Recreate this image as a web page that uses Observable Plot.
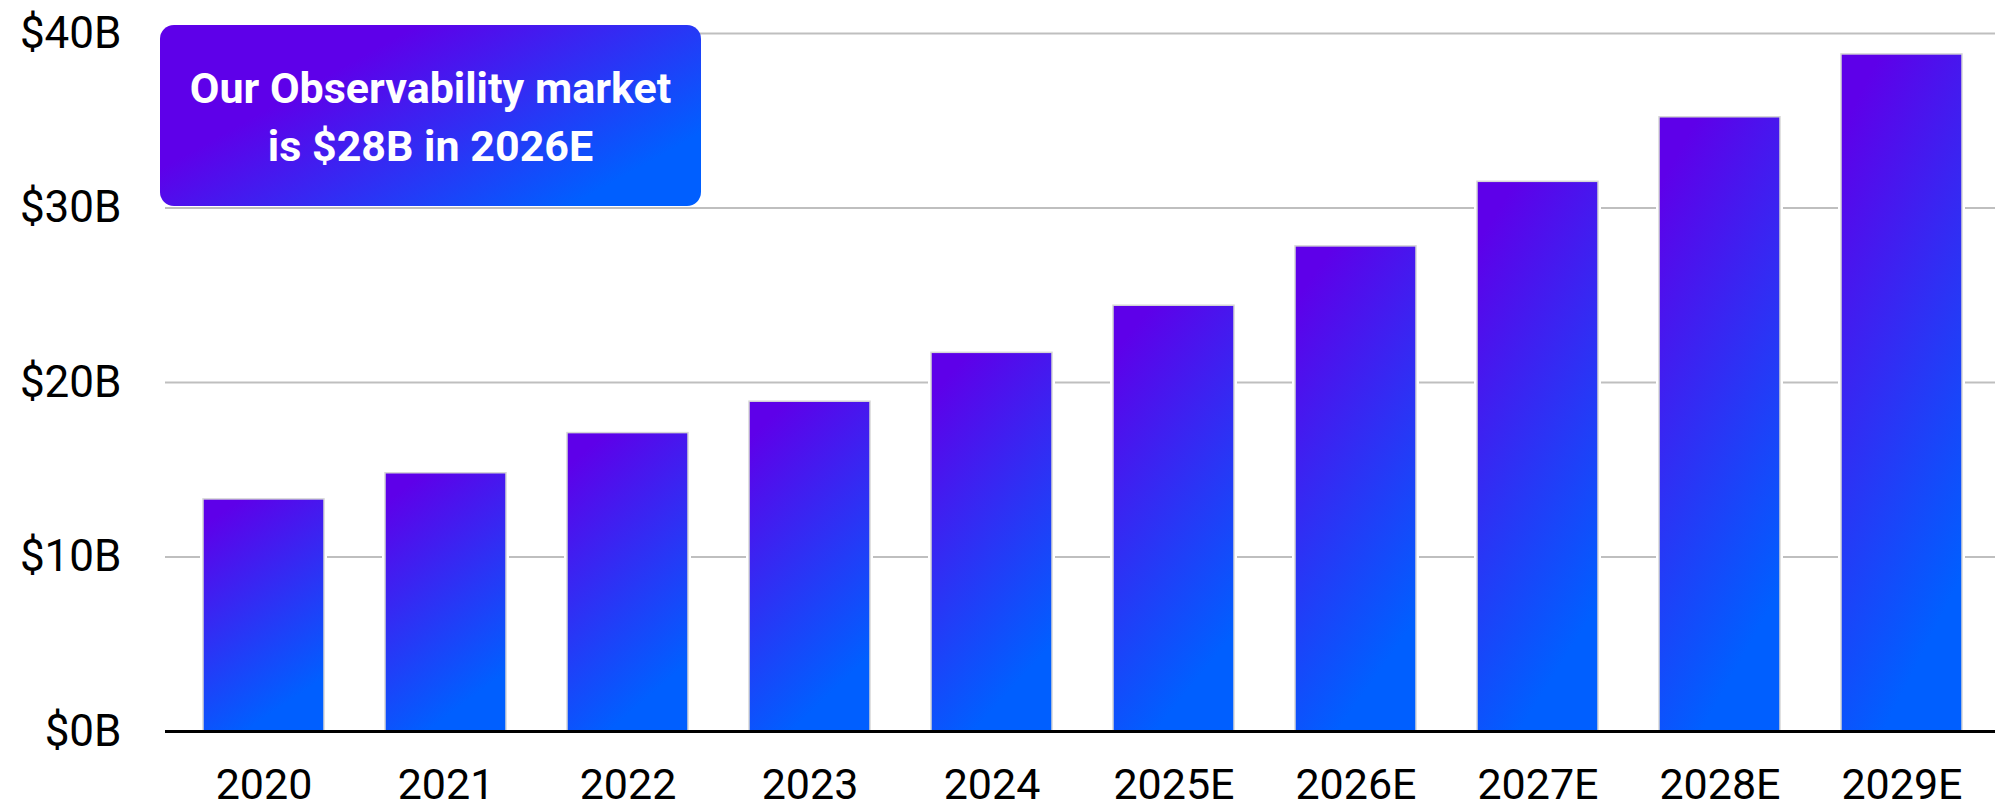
<!DOCTYPE html>
<html>
<head>
<meta charset="utf-8">
<script src="https://cdn.jsdelivr.net/npm/d3@7"></script>
<script src="https://cdn.jsdelivr.net/npm/@observablehq/plot@0.6"></script>
<style>
  html, body { margin: 0; padding: 0; background: #ffffff; }
  #chart { width: 1995px; height: 812px; overflow: hidden; }
</style>
</head>
<body>
<div id="chart"></div>
<script>
// ---- data ----
const years = ["2020", "2021", "2022", "2023", "2024", "2025E", "2026E", "2027E", "2028E", "2029E"];
const marketSize = [13.3, 14.8, 17.1, 18.9, 21.7, 24.4, 27.8, 31.5, 35.2, 38.8]; // $B
const yTicks = [0, 10, 20, 30, 40];
const annotationLines = ["Our Observability market", "is $28B in 2026E"];

// ---- colours ----
const purple = "#5E00E9";
const blue = "#005FFF";

const data = years.map((year, i) => ({year, value: marketSize[i]}));
const NS = "http://www.w3.org/2000/svg";
function el(name, attrs) {
  const e = document.createElementNS(NS, name);
  for (const k in attrs) e.setAttribute(k, attrs[k]);
  return e;
}

function decorations() {
  const g = el("g", {});
  const defs = el("defs", {});
  const bg = el("linearGradient", {id: "barGrad", x1: 0, y1: 0, x2: 0.35, y2: 1});
  bg.appendChild(el("stop", {offset: "0", "stop-color": purple}));
  bg.appendChild(el("stop", {offset: "0.1", "stop-color": purple}));
  bg.appendChild(el("stop", {offset: "1", "stop-color": blue}));
  const boxG = el("linearGradient", {id: "boxGrad", x1: 0, y1: 0, x2: 1, y2: 0.6});
  boxG.appendChild(el("stop", {offset: "0", "stop-color": purple}));
  boxG.appendChild(el("stop", {offset: "0.35", "stop-color": purple}));
  boxG.appendChild(el("stop", {offset: "1", "stop-color": blue}));
  defs.appendChild(bg);
  defs.appendChild(boxG);
  g.appendChild(defs);
  return g;
}

function annotation() {
  const g = el("g", {});
  const bx = 160, by = 25, bw = 541, bh = 181;
  g.appendChild(el("rect", {x: bx, y: by, width: bw, height: bh, rx: 14, ry: 14, fill: "url(#boxGrad)"}));
  const baselines = [103, 161];
  annotationLines.forEach((line, i) => {
    const t = el("text", {
      x: bx + bw / 2, y: baselines[i], "text-anchor": "middle",
      fill: "#ffffff", "font-size": 43, "font-weight": 700, "font-family": "Roboto"
    });
    t.textContent = line;
    g.appendChild(t);
  });
  return g;
}

const chart = Plot.plot({
  width: 1995,
  height: 812,
  marginLeft: 170,
  marginRight: 0,
  marginTop: 33,
  marginBottom: 81,
  style: {fontFamily: "Roboto", background: "#ffffff", color: "#000000"},
  x: {domain: years, paddingInner: 0.333, paddingOuter: 0.158, axis: null},
  y: {domain: [0, 40], axis: null},
  marks: [
    decorations,
    Plot.ruleY(yTicks.slice(1), {stroke: "#bfbfbf", strokeWidth: 2, insetLeft: -5}),
    Plot.barY(data, {x: "year", y: "value", fill: "#ffffff", stroke: "#ffffff", strokeWidth: 6}),
    Plot.barY(data, {x: "year", y: "value", fill: "url(#barGrad)", stroke: "#d6d6d6", strokeWidth: 1.5}),
    Plot.ruleY([0], {stroke: "#000000", strokeWidth: 3, insetLeft: -5}),
    Plot.axisY(yTicks, {tickSize: 0, tickPadding: 49, fontSize: 44, tickFormat: d => `$${d}B`, label: null}),
    Plot.axisX({tickSize: 0, tickPadding: 37, fontSize: 43, label: null}),
    annotation
  ]
});

document.getElementById("chart").appendChild(chart);
</script>
</body>
</html>
